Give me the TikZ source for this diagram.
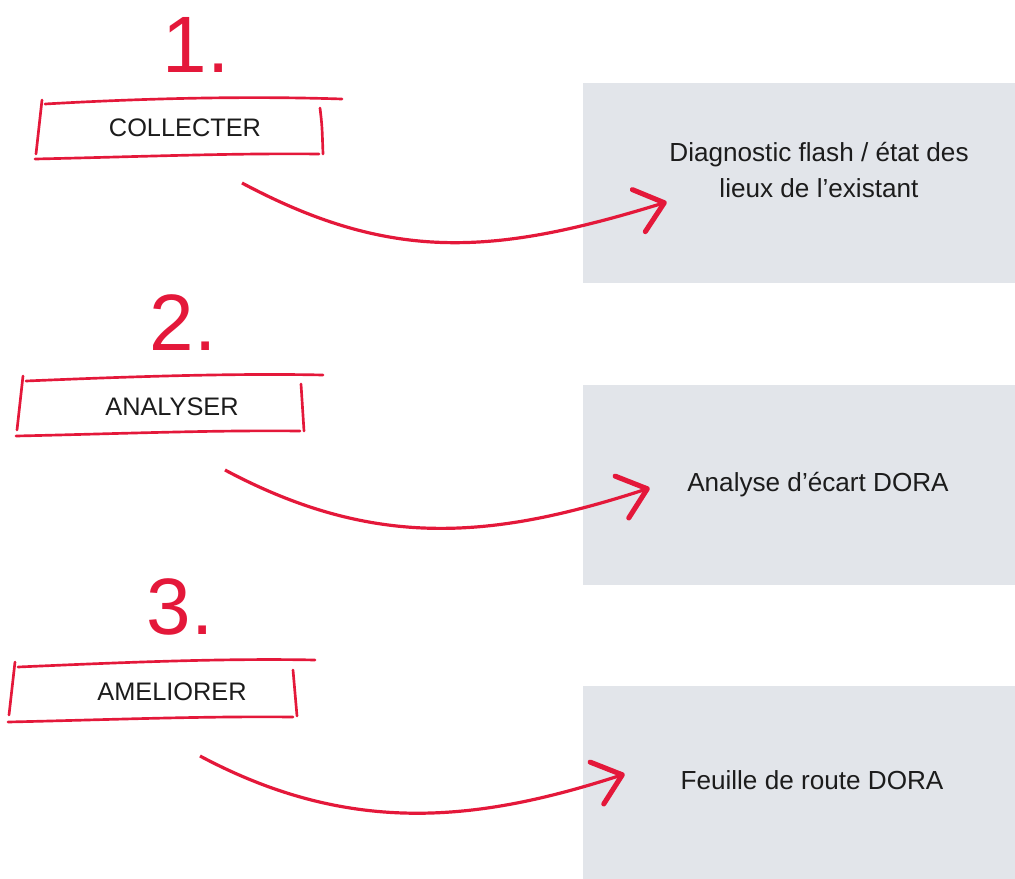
\documentclass[tikz,border=0pt]{standalone}
\usepackage{fontspec}
\setmainfont{Liberation Sans}
\usepackage{xcolor}
\usetikzlibrary{arrows.meta}
\definecolor{markred}{RGB}{228,24,58}
\definecolor{panelgray}{RGB}{226,229,234}
\definecolor{inkgray}{RGB}{28,28,28}

\begin{document}
\begin{tikzpicture}[
  x=0.75pt, y=-0.75pt,
  panel/.style={fill=panelgray, inner sep=0pt, minimum width=324pt, minimum height=150pt},
  steptext/.style={font=\fontsize{19}{26}\selectfont, text=inkgray},
  outtext/.style={font=\fontsize{19.6}{26.5}\selectfont, text=inkgray, align=center},
  numeral/.style={font=\fontsize{60}{60}\selectfont, text=markred, anchor=base},
  sketch/.style={draw=markred, line width=2pt, line cap=round},
  arr/.style={draw=markred, line width=2.4pt, -{Straight Barb[length=20pt, width=33pt, line width=3.8pt, round]}}
]
\useasboundingbox (0,0) rectangle (1015,879);
\node[panel] (out1) at (799,183) {};
\node[panel] (out2) at (799,484.5) {};
\node[panel, minimum height=144.75pt] (out3) at (799,782.5) {};
\node[outtext] (diag) at (819,170) {Diagnostic flash / état des\\lieux de l’existant};
\node[outtext] (gap) at (818,485) {Analyse d’écart DORA};
\node[outtext] (road) at (812,780) {Feuille de route DORA};
\node[numeral] (num1) at (196,72) {1.};
\node[numeral] (num2) at (183,350) {2.};
\node[numeral] (num3) at (180,634) {3.};
\node[steptext] (collect) at (185,128) {COLLECTER};
\node[steptext] (analyse) at (172,407) {ANALYSER};
\node[steptext] (improve) at (172,692) {AMELIORER};
\draw[sketch] (45,104) .. controls (150,98) and (250,96) .. (342,99);
\draw[sketch] (42,100) -- (36,154);
\draw[sketch] (35,159) .. controls (130,157) and (230,153) .. (319,154);
\draw[sketch] (320,108) .. controls (322,125) .. (323,154);
\draw[sketch] (26,381) .. controls (120,377) and (230,373) .. (323,375);
\draw[sketch] (23,376) -- (17,430);
\draw[sketch] (16,436) .. controls (110,434) and (210,430) .. (300,431);
\draw[sketch] (301,384) -- (304,431);
\draw[sketch] (18,667) .. controls (110,663) and (220,658) .. (315,660);
\draw[sketch] (15,662) -- (9,715);
\draw[sketch] (8,722) .. controls (100,720) and (200,716) .. (293,717);
\draw[sketch] (293,670) -- (297,716);
\draw[arr] ([shift={(57,55)}]collect.center) .. controls (392,263) and (495,255) .. ([shift={(84,19)}]out1.west);
\draw[arr] ([shift={(53,63)}]analyse.center) .. controls (375,550) and (493,539) .. ([shift={(67,3.5)}]out2.west);
\draw[arr] ([shift={(28,64)}]improve.center) .. controls (350,836) and (477,822) .. ([shift={(42,-8.5)}]out3.west);
\end{tikzpicture}
\end{document}
